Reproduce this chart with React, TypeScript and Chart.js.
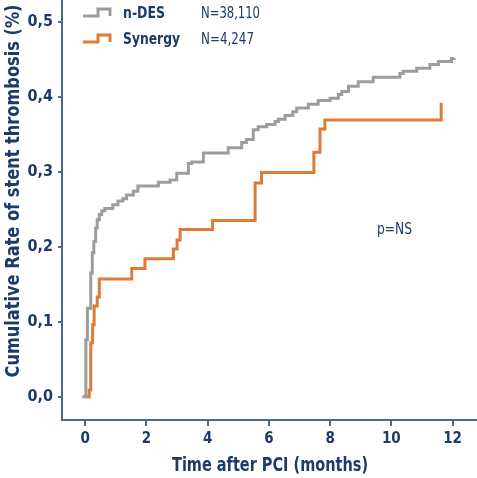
import { useEffect, useRef } from "react";
import { Chart, registerables, type Plugin } from "chart.js";

Chart.register(...registerables);

const FONT = "'DejaVu Sans Condensed', 'Liberation Sans Narrow', 'DejaVu Sans', sans-serif";
const NAVY = "#1c3b6a";
const AXIS = "#4b6a93";
const GREY = "#9d9d9d";
const ORANGE = "#e07b36";

// n-DES: time of each step (months) and cumulative rate (%) after it
const ndesMonths = [
  -0.1, 0.02, 0.07, 0.18, 0.23, 0.28, 0.34, 0.39, 0.46, 0.54,
  0.64, 0.9, 1.07, 1.23, 1.35, 1.57, 1.72, 2.39, 2.77, 2.99,
  3.37, 3.48, 3.86, 4.67, 5.11, 5.27, 5.49, 5.65, 5.93, 6.2,
  6.31, 6.53, 6.78, 6.91, 7.29, 7.61, 8.0, 8.27, 8.38, 8.6,
  8.92, 9.41, 10.28, 10.39, 10.83, 11.26, 11.54, 11.97, 12.05,
];
const ndesRate = [
  0, 0.076, 0.118, 0.165, 0.192, 0.207, 0.225, 0.236, 0.243, 0.248,
  0.251, 0.256, 0.261, 0.264, 0.269, 0.274, 0.281, 0.286, 0.289, 0.298,
  0.311, 0.313, 0.325, 0.332, 0.339, 0.343, 0.356, 0.36, 0.363, 0.367,
  0.37, 0.375, 0.38, 0.385, 0.39, 0.395, 0.398, 0.403, 0.407, 0.414,
  0.42, 0.426, 0.431, 0.434, 0.438, 0.443, 0.447, 0.451, 0.452,
];

// Synergy
const synergyMonths = [
  0.0, 0.13, 0.18, 0.24, 0.29, 0.39, 0.46, 1.52, 1.95, 2.88,
  3.0, 3.1, 4.16, 5.55, 5.76, 7.47, 7.67, 7.83, 11.63,
];
const synergyRate = [
  0, 0.009, 0.072, 0.096, 0.121, 0.133, 0.157, 0.171, 0.184, 0.197,
  0.209, 0.223, 0.235, 0.285, 0.299, 0.326, 0.357, 0.369, 0.392,
];

const xTicks = [0, 2, 4, 6, 8, 10, 12];
const yTicks = [0, 0.1, 0.2, 0.3, 0.4, 0.5];
const yTickLabels = ["0,0", "0,1", "0,2", "0,3", "0,4", "0,5"];

const legendItems = [
  { name: "n-DES", count: "N=38,110", color: GREY, nameW: 42, countW: 59 },
  { name: "Synergy", count: "N=4,247", color: ORANGE, nameW: 57, countW: 53 },
];

// draws text squeezed sideways to a given width (the original face is condensed)
function squeezeText(
  ctx: CanvasRenderingContext2D,
  text: string,
  x: number,
  y: number,
  width: number,
  align: "left" | "center",
) {
  const w = ctx.measureText(text).width;
  const k = Math.min(1, width / w);
  ctx.save();
  ctx.translate(x, y);
  ctx.scale(k, 1);
  ctx.textAlign = align;
  ctx.fillText(text, 0, 0);
  ctx.restore();
}

// axis titles, legend and p value drawn on top of the chart
const annotations: Plugin<"line"> = {
  id: "annotations",
  afterDraw(chart) {
    const ctx = chart.ctx;
    ctx.save();
    ctx.fillStyle = NAVY;
    ctx.textBaseline = "alphabetic";

    // x axis title
    ctx.font = `bold 19px ${FONT}`;
    squeezeText(ctx, "Time after PCI (months)", 270, 471, 196, "center");

    // y axis title
    ctx.save();
    ctx.translate(19, 191);
    ctx.rotate(-Math.PI / 2);
    squeezeText(ctx, "Cumulative Rate of stent thrombosis (%)", 0, 0, 373, "center");
    ctx.restore();

    // legend
    legendItems.forEach((item, i) => {
      const base = 15 + i * 26;
      ctx.strokeStyle = item.color;
      ctx.lineWidth = 3;
      ctx.lineJoin = "miter";
      ctx.beginPath();
      ctx.moveTo(83, base + 1);
      ctx.lineTo(98, base + 1);
      ctx.lineTo(98, base - 6);
      ctx.lineTo(110, base - 6);
      ctx.lineTo(110, base + 1);
      ctx.stroke();

      ctx.font = `bold 16px ${FONT}`;
      squeezeText(ctx, item.name, 123, base + 3, item.nameW, "left");
      ctx.font = `16px ${FONT}`;
      squeezeText(ctx, item.count, 201, base + 3, item.countW, "left");
    });

    // p value
    ctx.font = `15px ${FONT}`;
    squeezeText(ctx, "p=NS", 377, 234, 35, "left");

    ctx.restore();
  },
};

const App: React.FC = () => {
  const canvasRef = useRef<HTMLCanvasElement | null>(null);
  const chartRef = useRef<Chart<"line"> | null>(null);

  useEffect(() => {
    if (!canvasRef.current) return;
    if (chartRef.current) chartRef.current.destroy();

    const tickFont = { family: FONT, size: 15, weight: "bold" as const };

    chartRef.current = new Chart(canvasRef.current, {
      type: "line",
      data: {
        datasets: [
          {
            label: "n-DES",
            data: ndesMonths.map((m, i) => ({ x: m, y: ndesRate[i] })),
            borderColor: GREY,
            borderWidth: 3,
            stepped: "before",
            pointRadius: 0,
            fill: false,
          },
          {
            label: "Synergy",
            data: synergyMonths.map((m, i) => ({ x: m, y: synergyRate[i] })),
            borderColor: ORANGE,
            borderWidth: 3,
            stepped: "before",
            pointRadius: 0,
            fill: false,
          },
        ],
      },
      options: {
        animation: false,
        responsive: true,
        maintainAspectRatio: false,
        layout: { padding: 0 },
        plugins: {
          legend: { display: false },
          tooltip: { enabled: false },
        },
        scales: {
          x: {
            type: "linear",
            min: -0.76,
            max: 12.8,
            afterBuildTicks: (scale) => {
              scale.ticks = xTicks.map((v) => ({ value: v }));
            },
            afterFit: (scale) => {
              scale.height = 58;
              scale.paddingLeft = 0;
              scale.paddingRight = 0;
            },
            ticks: {
              color: NAVY,
              font: tickFont,
              padding: 4,
              maxRotation: 0,
              callback: (v) => String(v),
            },
            grid: {
              drawOnChartArea: false,
              drawTicks: true,
              tickLength: 6,
              color: AXIS,
              lineWidth: 2,
            },
            border: { color: AXIS, width: 2 },
          },
          y: {
            type: "linear",
            min: -0.031,
            max: 0.529,
            afterBuildTicks: (scale) => {
              scale.ticks = yTicks.map((v) => ({ value: v }));
            },
            afterFit: (scale) => {
              scale.width = 62;
              scale.paddingTop = 0;
              scale.paddingBottom = 0;
            },
            ticks: {
              color: NAVY,
              font: { family: FONT, size: 16, weight: "bold" },
              padding: 5,
              callback: (v) => yTickLabels[yTicks.indexOf(Number(v))] ?? "",
            },
            grid: {
              drawOnChartArea: false,
              drawTicks: true,
              tickLength: 4,
              color: AXIS,
              lineWidth: 2,
            },
            border: { color: AXIS, width: 2 },
          },
        },
      },
      plugins: [annotations],
    });

    return () => {
      if (chartRef.current) {
        chartRef.current.destroy();
        chartRef.current = null;
      }
    };
  }, []);

  return (
    <div
      style={{
        position: "fixed",
        left: 0,
        top: 0,
        width: 477,
        height: 478,
        background: "#fff",
      }}
    >
      <canvas ref={canvasRef} />
    </div>
  );
};

export default App;
